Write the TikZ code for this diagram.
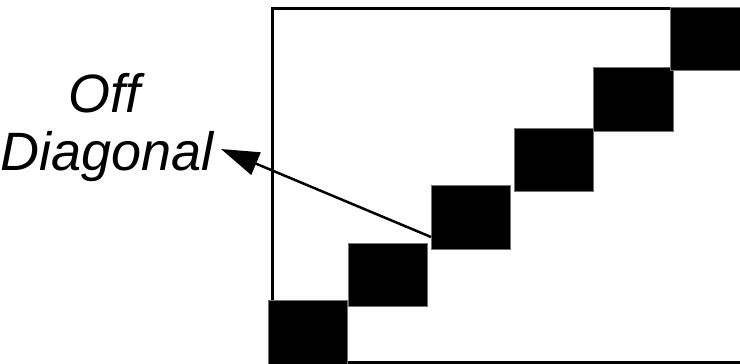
\documentclass[tikz,border=0pt]{standalone}
\usepackage{fontspec}
\setmainfont{Liberation Sans}
\usetikzlibrary{arrows.meta,calc}
\begin{document}
\begin{tikzpicture}[x=1pt,y=-1pt,
  block/.style={fill=black,draw=black!55,line width=0.6pt},
  lbl/.style={font=\fontsize{54}{58}\selectfont\itshape,inner sep=0pt,anchor=base west}]
\useasboundingbox (0,0) rectangle (740,364);
% matrix frame
\draw[line width=3pt] (740,8) -- (272,8) -- (272,362) -- (740,362);
% diagonal blocks
\path[block] (268,300) rectangle (347,364);
\path[block] (348,243) rectangle (427,306);
\path[block] (431,185) rectangle (510,249);
\path[block] (514,128) rectangle (593,191);
\path[block] (593,67) rectangle (673,131);
\path[block] (670,7) rectangle (740,70);
\coordinate (src) at (431,237);
% label
\node[lbl] (off) at (68,112) {Off};
\node[lbl] (diag) at (0,170) {Diagonal};
\coordinate (tip) at (221,149);
\draw[line width=2.5pt,-{Triangle[length=38pt,width=24pt]}] (src) -- (tip);
\end{tikzpicture}
\end{document}
